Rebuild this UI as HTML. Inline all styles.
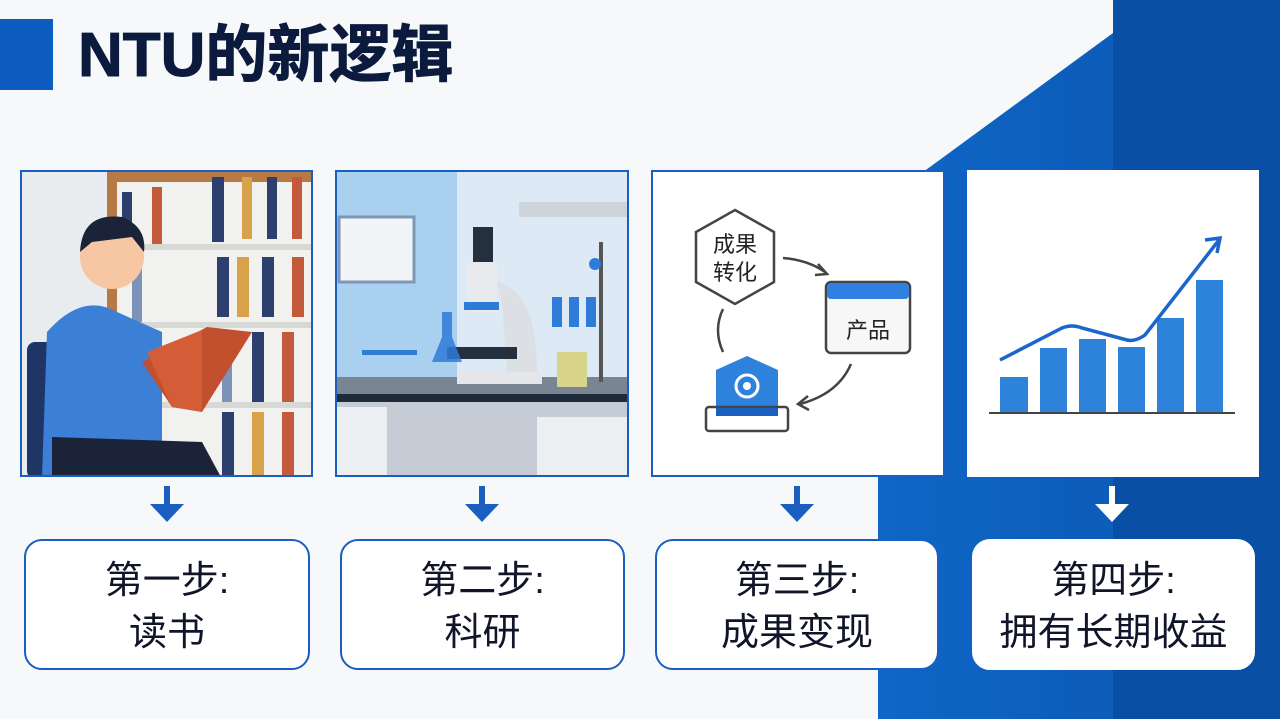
<!DOCTYPE html>
<html><head><meta charset="utf-8"><style>
*{margin:0;padding:0;box-sizing:border-box}
body{width:1280px;height:719px;overflow:hidden;background:#f7f8fa;position:relative;font-family:"Liberation Sans","Noto Sans CJK SC",sans-serif}
.abs{position:absolute}
.card{position:absolute;top:170px;height:307px;background:#fff;border:2px solid #1a5fc0;overflow:hidden}
.step{position:absolute;top:539px;height:131px;background:#fff;border:2px solid #1a5fc0;border-radius:18px;text-align:center;font-size:38px;color:#10152a;line-height:52px;padding-top:14px}
.arr{position:absolute;top:486px;width:34px;height:36px}
</style></head><body>
<svg class="abs" style="left:0;top:0" width="1280" height="719">
<defs><linearGradient id="g" x1="0" x2="1"><stop offset="0" stop-color="#0f66c6"/><stop offset="1" stop-color="#0b56b0"/></linearGradient></defs>
<polygon points="1113,33 878,205 878,719 1280,719 1280,0 1113,0" fill="url(#g)"/>
<rect x="1113" y="0" width="167" height="719" fill="#0a4fa6"/>
</svg>
<div class="abs" style="left:0;top:19px;width:53px;height:71px;background:#0d5cc0"></div>
<div class="abs" style="left:78px;top:18px;font-size:62px;font-weight:bold;color:#0b1a3d;line-height:76px;-webkit-text-stroke:1px #0b1a3d">NTU的新逻辑</div>

<div class="card" style="left:20px;width:293px">
<svg width="293" height="307">
<rect width="293" height="307" fill="#e9ecef"/>
<rect x="85" y="0" width="208" height="307" fill="#b77a45"/>
<rect x="95" y="10" width="198" height="297" fill="#f1f1ef"/>
<g fill="#2d3f6e"><rect x="100" y="20" width="10" height="55"/><rect x="130" y="15" width="10" height="60" fill="#c45a3c"/><rect x="190" y="5" width="12" height="65"/><rect x="220" y="5" width="10" height="62" fill="#d7a24a"/><rect x="245" y="5" width="10" height="62"/><rect x="270" y="5" width="10" height="62" fill="#c45a3c"/>
<rect x="110" y="95" width="10" height="55" fill="#7c93b8"/><rect x="195" y="85" width="12" height="60"/><rect x="215" y="85" width="12" height="60" fill="#d7a24a"/><rect x="240" y="85" width="12" height="60"/><rect x="270" y="85" width="12" height="60" fill="#c45a3c"/>
<rect x="200" y="165" width="10" height="65" fill="#7c93b8"/><rect x="230" y="160" width="12" height="70"/><rect x="260" y="160" width="12" height="70" fill="#c45a3c"/>
<rect x="200" y="240" width="12" height="67"/><rect x="230" y="240" width="12" height="67" fill="#d7a24a"/><rect x="260" y="240" width="12" height="67" fill="#c45a3c"/></g>
<rect x="95" y="72" width="198" height="6" fill="#d8d8d4"/><rect x="95" y="150" width="198" height="6" fill="#d8d8d4"/><rect x="95" y="230" width="198" height="6" fill="#d8d8d4"/>
<rect x="5" y="170" width="30" height="137" rx="8" fill="#1f3566"/>
<path d="M20 305 L25 160 Q60 120 95 140 L140 160 L140 305Z" fill="#3b7fd6"/>
<path d="M30 265 L180 270 L200 307 L30 307Z" fill="#1b2338"/>
<circle cx="90" cy="85" r="32" fill="#f7c7a3"/>
<path d="M58 80 Q60 40 100 45 Q125 55 122 80 L110 65 L70 70 Z" fill="#1b2338"/>
<path d="M120 190 L185 155 L230 160 L180 240 L150 235Z" fill="#c2502f"/>
<path d="M125 180 L180 158 L180 240 L150 235Z" fill="#d45d38"/>
</svg></div>

<div class="card" style="left:335px;width:294px">
<svg width="294" height="307">
<rect width="294" height="307" fill="#dde9f5"/>
<rect x="0" y="0" width="120" height="210" fill="#a9d0ee"/>
<rect x="2" y="45" width="75" height="65" fill="#f2f5f8" stroke="#7f97b6" stroke-width="3"/>
<rect x="182" y="30" width="112" height="15" fill="#cfd4da"/>
<rect x="0" y="205" width="294" height="20" fill="#7a8593"/>
<rect x="0" y="222" width="294" height="8" fill="#1f2a3a"/>
<rect x="0" y="230" width="294" height="77" fill="#c5ccd6"/>
<rect x="0" y="235" width="50" height="72" fill="#eceff2"/><rect x="200" y="245" width="94" height="62" fill="#eceff2"/>
<rect x="136" y="55" width="20" height="40" fill="#25303f"/>
<rect x="130" y="90" width="30" height="50" fill="#e8eaed"/>
<path d="M160 110 Q200 120 200 200 L170 200 L165 130Z" fill="#dcdfe3"/>
<rect x="110" y="175" width="70" height="12" fill="#25303f"/>
<rect x="120" y="200" width="85" height="12" fill="#e4e6ea"/>
<rect x="127" y="130" width="35" height="8" fill="#2f7bd8"/>
<rect x="215" y="125" width="10" height="30" fill="#2f7bd8"/><rect x="232" y="125" width="10" height="30" fill="#2f7bd8"/><rect x="249" y="125" width="10" height="30" fill="#2f7bd8"/>
<rect x="220" y="180" width="30" height="35" fill="#d8d48a"/>
<path d="M95 190 L105 165 L105 140 L115 140 L115 165 L125 190 Z" fill="#2f7bd8" opacity=".85"/>
<rect x="25" y="178" width="55" height="5" fill="#2f7bd8"/>
<rect x="262" y="70" width="4" height="140" fill="#555"/><circle cx="258" cy="92" r="6" fill="#2f7bd8"/>
</svg></div>

<div class="card" style="left:651px;width:294px">
<svg width="294" height="307" font-family="Liberation Sans,Noto Sans CJK SC,sans-serif">
<polygon points="82,38 121,60 121,110 82,132 43,110 43,60" fill="#fff" stroke="#444" stroke-width="2.5"/>
<text x="82" y="80" font-size="22" text-anchor="middle" fill="#222">成果</text>
<text x="82" y="108" font-size="22" text-anchor="middle" fill="#222">转化</text>
<path d="M130 86 Q155 88 172 100" fill="none" stroke="#444" stroke-width="2.5"/><path d="M165 92 L174 102 L162 103" fill="none" stroke="#444" stroke-width="2.5"/>
<rect x="173" y="110" width="84" height="71" rx="5" fill="#f7f7f7" stroke="#444" stroke-width="2.5"/>
<rect x="174" y="111" width="82" height="16" rx="4" fill="#2f80e0"/>
<text x="215" y="166" font-size="22" text-anchor="middle" fill="#222">产品</text>
<path d="M198 192 Q185 222 147 232" fill="none" stroke="#444" stroke-width="2.5"/><path d="M155 224 L145 232 L156 238" fill="none" stroke="#444" stroke-width="2.5"/>
<path d="M70 137 Q60 158 70 180" fill="none" stroke="#444" stroke-width="2.5"/>
<path d="M63 198 L94 184 L125 198 L125 235 L63 235Z" fill="#2f82dc"/>
<circle cx="94" cy="214" r="11" fill="none" stroke="#fff" stroke-width="3"/><circle cx="94" cy="214" r="4" fill="#fff"/>
<rect x="53" y="235" width="82" height="24" rx="3" fill="#fff" stroke="#444" stroke-width="2.5"/>
<rect x="63" y="236" width="62" height="8" fill="#1a5fc0"/>
</svg></div>

<div class="card" style="left:967px;width:292px;border:none">
<svg width="292" height="305">
<rect width="292" height="305" fill="#fff"/>
<g fill="#2d82da"><rect x="33" y="207" width="28" height="35"/><rect x="73" y="178" width="27" height="64"/><rect x="112" y="169" width="27" height="73"/><rect x="151" y="177" width="27" height="65"/><rect x="190" y="148" width="27" height="94"/><rect x="229" y="110" width="27" height="132"/></g>
<line x1="22" y1="243" x2="268" y2="243" stroke="#444" stroke-width="2"/>
<path d="M33 190 L95 158 Q105 154 115 158 L160 170 Q168 172 178 165 L252 70" fill="none" stroke="#1a66cc" stroke-width="3.5"/>
<path d="M238 70 L253 68 L250 83" fill="none" stroke="#1a66cc" stroke-width="3.5"/>
</svg></div>

<svg class="arr" style="left:150px"><rect x="14" y="0" width="6" height="20" fill="#1a5fc0"/><polygon points="0,18 34,18 17,36" fill="#1a5fc0"/></svg>
<svg class="arr" style="left:465px"><rect x="14" y="0" width="6" height="20" fill="#1a5fc0"/><polygon points="0,18 34,18 17,36" fill="#1a5fc0"/></svg>
<svg class="arr" style="left:780px"><rect x="14" y="0" width="6" height="20" fill="#1a5fc0"/><polygon points="0,18 34,18 17,36" fill="#1a5fc0"/></svg>
<svg class="arr" style="left:1095px"><rect x="14" y="0" width="6" height="20" fill="#fff"/><polygon points="0,18 34,18 17,36" fill="#fff"/></svg>

<div class="step" style="left:24px;width:286px">第一步:<br>读书</div>
<div class="step" style="left:340px;width:285px">第二步:<br>科研</div>
<div class="step" style="left:655px;width:284px">第三步:<br>成果变现</div>
<div class="step" style="left:972px;width:283px;border-color:#fff">第四步:<br>拥有长期收益</div>
</body></html>
